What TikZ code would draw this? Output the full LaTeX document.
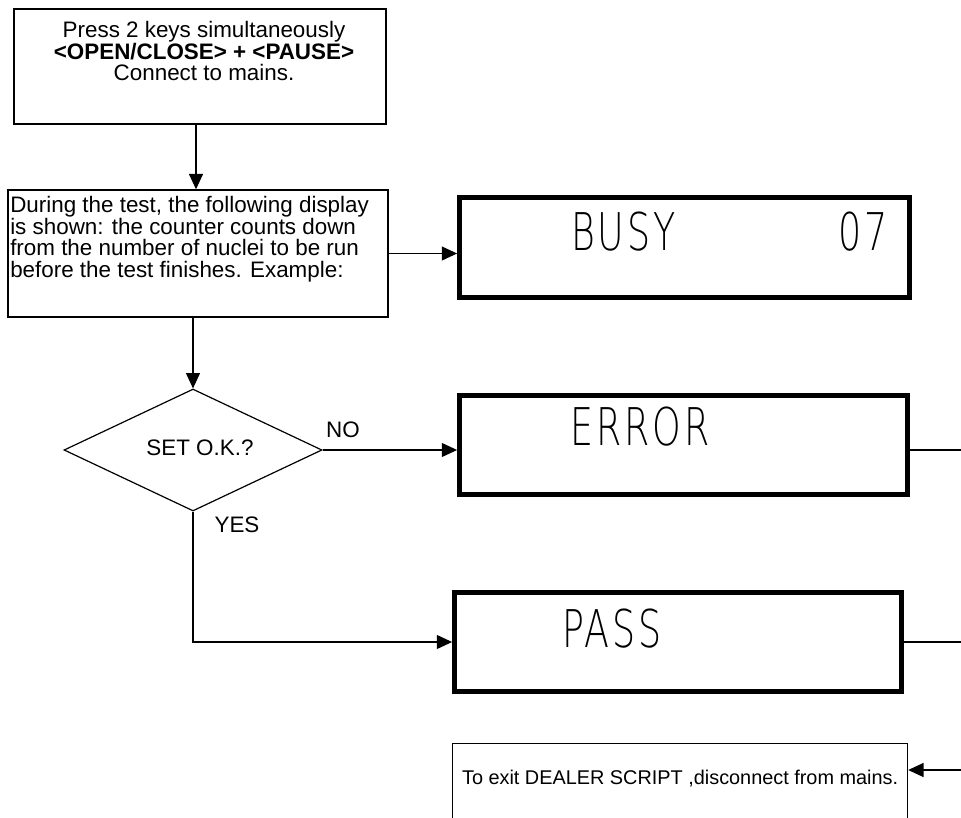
\documentclass[tikz,border=0pt]{standalone}
\usepackage{fontspec}
\setmainfont{Liberation Sans}
\newfontfamily\segfont[LetterSpace=8]{DejaVuSans-ExtraLight.ttf}
\usepackage{graphicx}
\usetikzlibrary{shapes.geometric,arrows.meta}
\begin{document}
\begin{tikzpicture}[x=0.75pt,y=-0.75pt,
  box/.style={draw, line width=1.1pt, inner sep=0},
  disp/.style={draw, line width=3.6pt, inner sep=0},
  conn/.style={line width=0.9pt},
  arr/.style={conn, -{Triangle[length=11.5pt,width=10.5pt]}},
  txt/.style={font=\fontsize{16.8}{16.3}\selectfont, inner sep=0},
  seg/.style={inner sep=0, anchor=base west, font=\segfont\fontsize{39}{39}\selectfont},
]
\useasboundingbox (0,0) rectangle (961,818);
\clip (0,0) rectangle (961,818);
\fill[white] (0,0) rectangle (961,818);

\coordinate (rEdge) at (961,0);
\coordinate (exitIn) at (961,770);

% start box
\node[box, minimum width=279pt, minimum height=86.25pt] (start) at (200,66.5) {};
\node[txt, align=center, anchor=north] (startT) at (204,21)
  {Press 2 keys simultaneously\\\textbf{<OPEN/CLOSE> + <PAUSE>}\\Connect to mains.};

% test box
\node[box, minimum width=285pt, minimum height=95.25pt] (test) at (198,253.5) {};
\node[txt, align=left, anchor=north west] (testT) at (10,196)
  {During the test, the following display\\is shown: the counter counts down\\from the number of nuclei to be run\\before the test finishes. Example:};

% decision
\node[diamond, draw, line width=0.9pt, minimum width=193.5pt, minimum height=91.5pt, inner sep=0] (dec) at (193,450) {};
\node[txt] (decT) at (200,448) {SET O.K.?};
\node[txt] (noT) at (343,430) {NO};
\node[txt] (yesT) at (237,525) {YES};

% displays
\node[disp, minimum width=337.5pt, minimum height=75pt] (busy) at (684.5,247.5) {};
\node[seg] (busyT) at (571,250) {\scalebox{0.7}[1]{BUSY}};
\node[seg] (busyN) at (838,250) {\scalebox{0.7}[1]{07}};

\node[disp, minimum width=336pt, minimum height=74.25pt] (err) at (683.5,445) {};
\node[seg] (errT) at (570,445) {\scalebox{0.7}[1]{ERROR}};

\node[disp, minimum width=335.25pt, minimum height=74.25pt] (pass) at (678,642) {};
\node[seg] (passT) at (562,647) {\scalebox{0.7}[1]{PASS}};

% exit box
\node[draw, line width=0.9pt, anchor=north west, inner xsep=7pt, inner ysep=0,
      text height=30.75pt, text depth=34.5pt, minimum width=341.25pt,
      font=\fontsize{14.9}{16}\selectfont] (exit) at (452,743)
  {To exit DEALER SCRIPT ,disconnect from mains.};

% connectors
\draw[arr] ([xshift=-3pt]start.south) -- ([xshift=-3pt]start.south |- test.north);
\draw[arr] (test.south -| dec.north) -- (dec.north);
\draw[arr] (test.east) -- (test.east -| busy.west);
\draw[arr] (dec.east) -- (dec.east -| err.west);
\draw[arr] (dec.south) |- (pass.west);
\draw[conn] (dec.east -| err.east) -- (dec.east -| rEdge);
\draw[conn] (pass.east) -- (pass.east -| rEdge);
\draw[arr] (exitIn) -- (exitIn -| exit.east);
\end{tikzpicture}
\end{document}
